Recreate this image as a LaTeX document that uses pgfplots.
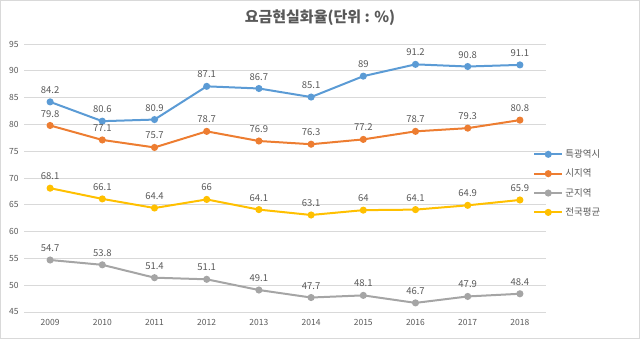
\documentclass[border=0pt]{standalone}
\usepackage{pgfplots}
\pgfplotsset{compat=1.18}
\usepackage{fontspec}
\setmainfont{Noto Sans CJK KR}
\definecolor{cBlue}{HTML}{5B9BD5}
\definecolor{cOrange}{HTML}{ED7D31}
\definecolor{cGray}{HTML}{A5A5A5}
\definecolor{cYellow}{HTML}{FFC000}
\definecolor{txt}{HTML}{595959}
\definecolor{gridc}{HTML}{D9D9D9}
\begin{document}
\begin{tikzpicture}
\path[use as bounding box] (0,0) rectangle (640pt,339pt);
\draw[gridc] (0.5pt,0.5pt) rectangle (639.5pt,338.5pt);
\node[font=\bfseries\fontsize{15}{17}\selectfont, text=txt] at (320pt,321pt) {요금현실화율(단위 : \%)};
\begin{axis}[
  at={(24pt,27pt)}, anchor=south west,
  scale only axis, width=522pt, height=268pt,
  xmin=2008.5, xmax=2018.5, ymin=45, ymax=95,
  xtick={2009,...,2018}, ytick={45,50,...,95},
  /pgf/number format/assume math mode=true,
  x tick label style={/pgf/number format/1000 sep={}, font=\fontsize{8.5}{9}\selectfont, text=txt},
  y tick label style={font=\fontsize{8.5}{9}\selectfont, text=txt},
  axis line style={draw=none},
  major tick length=0pt,
  ymajorgrids, xmajorgrids=false, grid style={draw=gridc, line width=0.8pt},
  xticklabel style={yshift=-4pt},
  yticklabel style={xshift=-2pt},
  every axis plot/.append style={line width=2pt, mark=*, mark size=2.5pt},
  nodes near coords,
  nodes near coords style={font=\fontsize{9.5}{10}\selectfont, text=txt, yshift=4pt},
  point meta=explicit symbolic,
  legend style={at={(0.969,0.48)}, anchor=west, draw=none, fill=none,
    font=\fontsize{9.5}{10}\selectfont, text=txt, row sep=6pt},
  legend cell align=left,
  legend image code/.code={\draw[mark repeat=2,mark phase=2,#1] plot coordinates {(0cm,0cm)(0.5cm,0cm)(1cm,0cm)};},
  clip=false,
]
\addplot[cBlue, mark options={fill=cBlue}] coordinates {
(2009,84.2)[84.2] (2010,80.6)[80.6] (2011,80.9)[80.9] (2012,87.1)[87.1] (2013,86.7)[86.7]
(2014,85.1)[85.1] (2015,89)[89] (2016,91.2)[91.2] (2017,90.8)[90.8] (2018,91.1)[91.1]};
\addlegendentry{특광역시}
\addplot[cOrange, mark options={fill=cOrange}] coordinates {
(2009,79.8)[79.8] (2010,77.1)[77.1] (2011,75.7)[75.7] (2012,78.7)[78.7] (2013,76.9)[76.9]
(2014,76.3)[76.3] (2015,77.2)[77.2] (2016,78.7)[78.7] (2017,79.3)[79.3] (2018,80.8)[80.8]};
\addlegendentry{시지역}
\addplot[cGray, mark options={fill=cGray}] coordinates {
(2009,54.7)[54.7] (2010,53.8)[53.8] (2011,51.4)[51.4] (2012,51.1)[51.1] (2013,49.1)[49.1]
(2014,47.7)[47.7] (2015,48.1)[48.1] (2016,46.7)[46.7] (2017,47.9)[47.9] (2018,48.4)[48.4]};
\addlegendentry{군지역}
\addplot[cYellow, mark options={fill=cYellow}] coordinates {
(2009,68.1)[68.1] (2010,66.1)[66.1] (2011,64.4)[64.4] (2012,66)[66] (2013,64.1)[64.1]
(2014,63.1)[63.1] (2015,64)[64] (2016,64.1)[64.1] (2017,64.9)[64.9] (2018,65.9)[65.9]};
\addlegendentry{전국평균}
\end{axis}
\end{tikzpicture}
\end{document}
